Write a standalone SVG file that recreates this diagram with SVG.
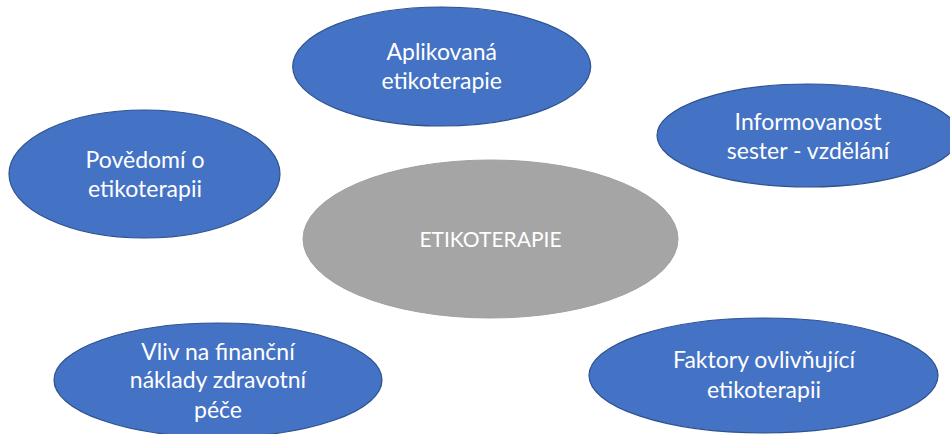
<svg xmlns="http://www.w3.org/2000/svg" width="950" height="434" viewBox="0 0 950 434">
<style>
.blue{fill:#4472C4;stroke:#2F528F;stroke-width:1.2}
.gray{fill:#A5A5A5;stroke:#A0A0A0;stroke-width:1}
.t{font-family:Lato,"Open Sans","Liberation Sans",sans-serif;font-size:23px;fill:#FFFFFF;text-anchor:middle}
.tc{font-family:Lato,"Open Sans","Liberation Sans",sans-serif;font-size:21px;fill:#FFFFFF;text-anchor:middle}
</style>
<rect width="950" height="434" fill="#FFFFFF"/>
<g id="center">
<ellipse class="gray" cx="490.5" cy="239" rx="187.5" ry="79"/>
<text class="tc" x="490.5" y="247">ETIKOTERAPIE</text>
</g>
<g id="aplikovana">
<ellipse class="blue" cx="441.7" cy="66.5" rx="149" ry="59.5"/>
<text class="t" x="441.7" y="60">Aplikovaná</text>
<text class="t" x="441.7" y="89">etikoterapie</text>
</g>
<g id="informovanost">
<ellipse class="blue" cx="808" cy="135.5" rx="151" ry="51.5"/>
<text class="t" x="808" y="130">Informovanost</text>
<text class="t" x="808" y="159">sester - vzdělání</text>
</g>
<g id="povedomi">
<ellipse class="blue" cx="144.5" cy="174" rx="135.5" ry="64"/>
<text class="t" x="145" y="168">Povědomí o</text>
<text class="t" x="145" y="197">etikoterapii</text>
</g>
<g id="vliv">
<ellipse class="blue" cx="218" cy="380" rx="164" ry="57"/>
<text class="t" x="218" y="360">Vliv na finanční</text>
<text class="t" x="218" y="388">náklady zdravotní</text>
<text class="t" x="218" y="418">péče</text>
</g>
<g id="faktory">
<ellipse class="blue" cx="763.5" cy="375.5" rx="174.5" ry="57.5"/>
<text class="t" x="764" y="368">Faktory ovlivňující</text>
<text class="t" x="764" y="398">etikoterapii</text>
</g>
</svg>
